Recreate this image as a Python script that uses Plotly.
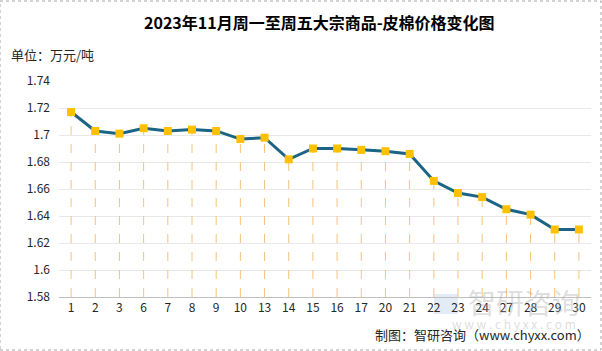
import plotly.graph_objects as go

categories = ["1", "2", "3", "6", "7", "8", "9", "10", "13", "14", "15", "16",
              "17", "20", "21", "22", "23", "24", "27", "28", "29", "30"]
prices = [1.717, 1.703, 1.701, 1.705, 1.703, 1.704, 1.703, 1.697, 1.698, 1.682,
          1.690, 1.690, 1.689, 1.688, 1.686, 1.666, 1.657, 1.654, 1.645, 1.641,
          1.630, 1.630]
y_ticks = [1.58, 1.6, 1.62, 1.64, 1.66, 1.68, 1.7, 1.72, 1.74]
y_tick_labels = ["1.58", "1.6", "1.62", "1.64", "1.66", "1.68", "1.7", "1.72", "1.74"]
title_text = "2023年11月周一至周五大宗商品-皮棉价格变化图"
unit_text = "单位：万元/吨"
source_text = "制图：智研咨询（www.chyxx.com）"
watermark_text = "智研咨询"
watermark_url = "w w w . c h y x x . c o m"

y_min, y_max = 1.58, 1.74

# drop lines built from data
drop_x, drop_y = [], []
for c, v in zip(categories, prices):
    drop_x += [c, c, None]
    drop_y += [y_min, v, None]

fig = go.Figure()
fig.add_trace(go.Scatter(
    x=drop_x, y=drop_y, mode="lines",
    line=dict(color="#F6C27A", width=1, dash="dash"),
    hoverinfo="skip", showlegend=False))
fig.add_trace(go.Scatter(
    x=categories, y=prices, mode="lines+markers",
    line=dict(color="#1B6486", width=3),
    marker=dict(symbol="square", size=8, color="#FFC000"),
    showlegend=False))

cjk = "Microsoft YaHei, Noto Sans CJK SC, sans-serif"
fig.update_layout(
    width=602, height=351,
    margin=dict(l=59, r=11, t=81, b=54),
    paper_bgcolor="white", plot_bgcolor="white",
    font=dict(family=cjk, color="#262626", size=12),
    xaxis=dict(type="category", categoryorder="array", categoryarray=categories,
               range=[-0.5, len(categories) - 0.5],
               showgrid=False, showline=True, linecolor="#BFBFBF", linewidth=1,
               ticks="", tickfont=dict(size=12, color="#262626"), fixedrange=True),
    yaxis=dict(range=[y_min, y_max], tickvals=y_ticks, ticktext=y_tick_labels,
               showgrid=True, gridcolor="#E8E8E8", gridwidth=1,
               zeroline=False, showline=False, ticks="", ticklabelstandoff=8,
               tickfont=dict(size=12, color="#262626"), fixedrange=True),
    shapes=[dict(type="rect", xref="paper", yref="paper",
                 x0=-59/532, x1=1 + 10/532, y0=-53/216, y1=1 + 80/216,
                 line=dict(color="#A6A6A6", width=1, dash="dot")),
            dict(type="rect", xref="paper", yref="paper", layer="below",
                 x0=(434-59)/532, x1=(458-59)/532, y0=-17/216, y1=3/216,
                 fillcolor="rgba(190,210,235,0.45)", line=dict(width=0))],
    annotations=[
        dict(text="<b>" + title_text + "</b>", xref="paper", yref="paper",
             x=0.5 - 6/532, y=1 + 59/216, xanchor="center", yanchor="middle",
             showarrow=False, font=dict(size=16, color="#000000", family=cjk)),
        dict(text=unit_text, xref="paper", yref="paper",
             x=-50/532, y=1 + 26/216, xanchor="left", yanchor="middle",
             showarrow=False, font=dict(size=13, color="#262626", family=cjk)),
        dict(text=watermark_text, xref="paper", yref="paper",
             x=1 - 9/532, y=-5/216, xanchor="right", yanchor="middle",
             showarrow=False, font=dict(size=28, color="rgba(170,170,170,0.4)", family=cjk)),
        dict(text=watermark_url, xref="paper", yref="paper",
             x=1 - 13/532, y=-26/216, xanchor="right", yanchor="middle",
             showarrow=False, font=dict(size=12, color="rgba(170,170,170,0.4)", family=cjk)),
        dict(text=source_text, xref="paper", yref="paper",
             x=1 + 1/532, y=-37/216, xanchor="right", yanchor="middle",
             showarrow=False, font=dict(size=13, color="#262626", family=cjk)),
    ],
)

fig.write_html("out.html")
